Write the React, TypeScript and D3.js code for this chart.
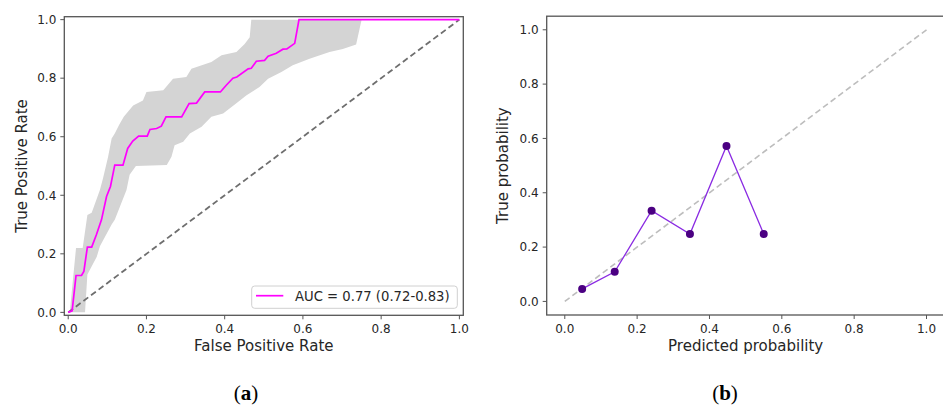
import React from "react";
import * as d3 from "d3";

// ROC curve (mean)
const rocFpr = [0, 0.01, 0.02, 0.034, 0.04, 0.049, 0.06, 0.072, 0.085, 0.098, 0.108, 0.119, 0.14, 0.152, 0.165, 0.18, 0.202, 0.209, 0.226, 0.238, 0.25, 0.29, 0.309, 0.328, 0.349, 0.389, 0.404, 0.421, 0.431, 0.46, 0.468, 0.481, 0.502, 0.511, 0.532, 0.549, 0.559, 0.579, 0.59, 1.0];
const rocTpr = [0, 0.005, 0.126, 0.126, 0.14, 0.223, 0.223, 0.265, 0.316, 0.396, 0.43, 0.503, 0.503, 0.56, 0.585, 0.602, 0.602, 0.625, 0.628, 0.636, 0.668, 0.668, 0.713, 0.715, 0.753, 0.753, 0.776, 0.8, 0.804, 0.832, 0.834, 0.858, 0.861, 0.875, 0.885, 0.899, 0.9, 0.919, 1.0, 1.0];

// Confidence band
const upperFpr = [0.004, 0.02, 0.037, 0.049, 0.06, 0.081, 0.089, 0.102, 0.111, 0.119, 0.13, 0.142, 0.166, 0.191, 0.2, 0.243, 0.268, 0.302, 0.315, 0.366, 0.392, 0.43, 0.451, 0.464, 0.468, 1.0];
const upperTpr = [0, 0.22, 0.22, 0.333, 0.34, 0.418, 0.458, 0.532, 0.594, 0.611, 0.64, 0.668, 0.707, 0.724, 0.753, 0.759, 0.798, 0.804, 0.832, 0.855, 0.878, 0.889, 0.917, 0.94, 1.0, 1.0];
const lowerFpr = [0.004, 0.043, 0.049, 0.073, 0.081, 0.111, 0.119, 0.149, 0.157, 0.173, 0.252, 0.264, 0.272, 0.294, 0.311, 0.341, 0.366, 0.396, 0.434, 0.455, 0.489, 0.511, 0.545, 0.574, 0.617, 0.668, 0.702, 0.736, 0.75, 1.0];
const lowerTpr = [0, 0, 0.129, 0.19, 0.226, 0.3, 0.316, 0.418, 0.47, 0.5, 0.503, 0.532, 0.571, 0.583, 0.611, 0.634, 0.668, 0.679, 0.719, 0.741, 0.77, 0.798, 0.821, 0.844, 0.866, 0.889, 0.9, 0.915, 1.0, 1.0];

// Calibration curve
const predProb = [0.048, 0.138, 0.24, 0.346, 0.447, 0.55];
const trueProb = [0.046, 0.109, 0.334, 0.248, 0.572, 0.248];

const tickVals = [0, 0.2, 0.4, 0.6, 0.8, 1.0];
const legendLabel = "AUC = 0.77 (0.72-0.83)";

const FONT = "'DejaVu Sans', sans-serif";
const SPINE = "#555";
const TXT = "#262626";

function Axes({ x, y, xLabel, yLabel, yLabelX }: any) {
  const [x0, x1] = x.range();
  const [y0, y1] = y.range();
  return (
    <g>
      <rect x={x0} y={y1} width={x1 - x0} height={y0 - y1} fill="none" stroke={SPINE} strokeWidth={1.3} />
      {tickVals.map((t) => (
        <g key={"x" + t}>
          <line x1={x(t)} x2={x(t)} y1={y0} y2={y0 + 4} stroke={SPINE} strokeWidth={1} />
          <text x={x(t)} y={y0 + 18} textAnchor="middle" fontSize={12} fill={TXT} fontFamily={FONT}>
            {t.toFixed(1)}
          </text>
        </g>
      ))}
      {tickVals.map((t) => (
        <g key={"y" + t}>
          <line x1={x0} x2={x0 - 4} y1={y(t)} y2={y(t)} stroke={SPINE} strokeWidth={1} />
          <text x={x0 - 8} y={y(t) + 4.3} textAnchor="end" fontSize={12} fill={TXT} fontFamily={FONT}>
            {t.toFixed(1)}
          </text>
        </g>
      ))}
      <text x={(x0 + x1) / 2} y={y0 + 36} textAnchor="middle" fontSize={15} fill={TXT} fontFamily={FONT}>
        {xLabel}
      </text>
      <text
        transform={`translate(${yLabelX},${(y0 + y1) / 2}) rotate(-90)`}
        textAnchor="middle"
        fontSize={15}
        fill={TXT}
        fontFamily={FONT}
      >
        {yLabel}
      </text>
    </g>
  );
}

export default function App() {
  const W = 943;
  const H = 406;

  const xL = d3.scaleLinear().domain([-0.01, 1.01]).range([64.3, 463.3]);
  const yL = d3.scaleLinear().domain([-0.01, 1.01]).range([315.3, 16.7]);

  const xR = d3.scaleLinear().domain([-0.05, 1.05]).range([546.7, 944.6]);
  const yR = d3.scaleLinear().domain([-0.05, 1.05]).range([315, 16.2]);

  const line = d3.line<[number, number]>();

  const rocPts = rocFpr.map((f, i) => [xL(f), yL(rocTpr[i])] as [number, number]);
  const upperPts = upperFpr.map((f, i) => [xL(f), yL(upperTpr[i])] as [number, number]);
  const lowerPts = lowerFpr.map((f, i) => [xL(f), yL(lowerTpr[i])] as [number, number]);
  const bandPts = [...upperPts, ...lowerPts.slice().reverse()];
  const bandPath = line(bandPts) + "Z";

  const calPts = predProb.map((p, i) => [xR(p), yR(trueProb[i])] as [number, number]);

  return (
    <div style={{ position: "absolute", left: 0, top: 0 }}>
      <svg width={W} height={H} style={{ display: "block", background: "#fff" }}>
        {/* Left panel: ROC */}
        <path d={bandPath} fill="#d4d4d4" stroke="none" />
        <line x1={xL(0)} y1={yL(0)} x2={xL(1)} y2={yL(1)} stroke="#6e6e6e" strokeWidth={1.8} strokeDasharray="6,3.5" />
        <path d={line(rocPts) || ""} fill="none" stroke="#ff00ff" strokeWidth={1.7} />
        <Axes x={xL} y={yL} xLabel="False Positive Rate" yLabel="True Positive Rate" yLabelX={26.5} />
        {/* Legend */}
        <rect x={251.7} y={286} width={205.6} height={22.3} rx={3} fill="#fff" fillOpacity={0.85} stroke="#d0d0d0" strokeWidth={1} />
        <line x1={256} x2={283.3} y1={295.7} y2={295.7} stroke="#ff00ff" strokeWidth={1.7} />
        <text x={295} y={300.5} fontSize={13.2} fill={TXT} fontFamily={FONT}>
          {legendLabel}
        </text>

        {/* Right panel: calibration */}
        <line x1={xR(0)} y1={yR(0)} x2={xR(1)} y2={yR(1)} stroke="#bdbdbd" strokeWidth={1.6} strokeDasharray="6,3.5" />
        <path d={line(calPts) || ""} fill="none" stroke="#8a2be2" strokeWidth={1.3} />
        {calPts.map((p, i) => (
          <circle key={i} cx={p[0]} cy={p[1]} r={4} fill="#4b0082" />
        ))}
        <Axes x={xR} y={yR} xLabel="Predicted probability" yLabel="True probability" yLabelX={508} />

        {/* Panel captions */}
        <text x={246} y={400} textAnchor="middle" fontSize={21} fill="#000" fontFamily="'Liberation Serif', serif">
          (<tspan fontWeight="bold">a</tspan>)
        </text>
        <text x={725} y={400} textAnchor="middle" fontSize={21} fill="#000" fontFamily="'Liberation Serif', serif">
          (<tspan fontWeight="bold">b</tspan>)
        </text>
      </svg>
    </div>
  );
}
